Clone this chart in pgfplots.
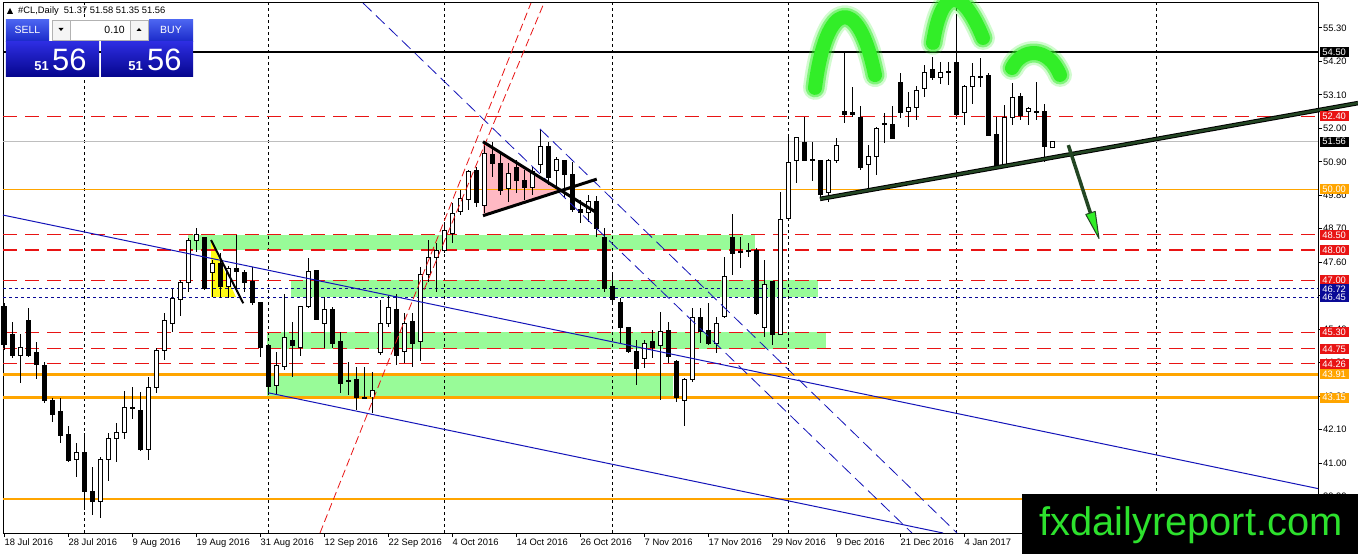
\documentclass[border=0pt]{standalone}
\usepackage{pgfplots}
\pgfplotsset{compat=1.18}
\usepackage{pgfplotstable}
\usetikzlibrary{backgrounds}
\usepackage{fontspec}
\setmainfont{Liberation Sans}

\definecolor{mtred}{RGB}{232,20,20}
\definecolor{mtorange}{RGB}{255,165,0}
\definecolor{mtnavy}{RGB}{10,10,150}
\definecolor{mtblue}{RGB}{20,20,185}
\definecolor{zone}{RGB}{152,251,152}
\definecolor{pinktri}{RGB}{255,185,195}
\definecolor{yeltri}{RGB}{255,250,20}
\definecolor{hsgreen}{RGB}{50,238,40}
\definecolor{trendgreen}{RGB}{35,70,35}
\definecolor{bidgray}{RGB}{190,190,190}
\definecolor{wmgreen}{RGB}{45,225,45}
\definecolor{btntop}{RGB}{75,100,240}
\definecolor{btnbot}{RGB}{25,40,200}
\definecolor{bigtop}{RGB}{45,45,225}
\definecolor{bigbot}{RGB}{5,5,140}

\newcommand{\lblfont}{\fontsize{9.4}{10}\selectfont}

% #CL daily bars, bar 0 = 18 Jul 2016, 8 bars between date labels
\pgfplotstableread{
i O H L C
0 46.13 46.26 44.71 44.88
1 45.24 45.64 44.45 44.55
2 44.55 45.24 43.63 44.81
3 45.67 46.10 44.48 44.52
4 44.62 44.98 43.76 44.25
5 44.22 44.32 42.97 43.07
6 43.07 43.14 42.35 42.61
7 42.68 43.14 41.66 41.92
8 41.95 42.22 41.05 41.07
9 41.13 41.66 40.54 41.36
10 41.36 41.99 39.46 40.05
11 40.05 40.87 39.29 39.75
12 39.72 41.20 39.19 41.13
13 41.13 41.99 40.41 41.79
14 41.79 42.32 41.03 41.99
15 41.99 43.37 41.79 42.84
16 42.84 43.50 42.45 42.78
17 42.71 43.33 41.39 41.46
18 41.46 43.83 41.10 43.47
19 43.47 44.78 43.30 44.71
20 44.71 45.93 44.39 45.70
21 45.60 46.72 45.31 46.42
22 46.36 47.02 45.83 46.92
23 46.92 48.40 46.62 48.33
24 48.30 48.73 47.94 48.50
25 48.40 48.42 46.69 46.75
26 47.25 47.67 46.46 47.57
27 47.57 47.90 46.42 46.79
28 46.79 47.48 46.42 47.38
29 47.38 48.50 46.62 47.28
30 47.25 47.34 46.62 46.92
31 46.95 47.44 46.19 46.26
32 46.26 46.26 44.48 44.81
33 44.85 44.85 43.33 43.50
34 43.56 44.65 43.27 44.22
35 44.16 46.56 44.06 45.14
36 45.04 45.64 43.83 44.85
37 44.81 46.16 44.52 46.13
38 46.13 47.74 46.10 47.28
39 47.34 47.34 45.70 45.73
40 45.57 46.46 44.78 46.06
41 46.06 46.13 44.78 44.94
42 44.98 45.31 43.30 43.63
43 43.72 44.32 43.24 43.69
44 43.73 44.16 42.74 43.17
45 43.15 44.16 43.12 43.13
46 43.17 44.00 42.64 43.37
47 44.62 46.36 44.55 45.60
48 45.60 46.49 45.47 46.10
49 46.06 46.56 44.22 44.55
50 44.65 45.93 44.29 45.60
51 45.64 45.93 44.16 44.94
52 44.98 47.44 44.35 47.18
53 47.18 48.33 46.95 47.74
54 47.77 48.23 46.62 48.00
55 48.00 48.92 47.90 48.63
56 48.56 49.55 48.23 49.19
57 49.28 49.97 49.15 49.68
58 49.65 50.63 49.32 50.57
59 50.60 50.73 49.42 49.55
60 49.48 51.55 49.22 51.16
61 51.13 51.55 50.40 50.86
62 50.86 51.19 49.81 49.97
63 50.01 50.86 49.58 50.53
64 50.73 50.96 49.88 50.30
65 50.30 50.63 49.65 50.07
66 50.07 50.73 49.81 50.57
67 50.80 51.95 50.53 51.39
68 51.42 51.55 50.14 50.37
69 50.63 51.06 50.04 50.99
70 50.93 50.96 49.74 50.50
71 50.47 50.89 49.25 49.32
72 49.32 49.65 48.89 49.22
73 49.22 49.81 48.92 49.58
74 49.58 49.78 48.43 48.72
75 48.40 48.72 46.62 46.75
76 46.79 47.28 46.26 46.36
77 46.29 46.42 44.94 45.47
78 45.47 45.47 44.62 44.65
79 44.65 45.04 43.56 44.12
80 44.45 45.04 44.12 44.94
81 44.98 45.37 44.45 44.81
82 44.85 45.96 43.07 45.31
83 45.34 45.64 44.29 44.50
84 44.35 44.39 43.01 43.14
85 43.07 43.79 42.22 43.73
86 43.73 46.10 43.66 45.77
87 45.77 46.10 44.94 45.31
88 45.37 46.26 44.88 44.94
89 44.94 45.80 44.62 45.60
90 45.80 47.77 45.77 47.12
91 48.40 49.19 47.18 47.90
92 47.94 48.43 47.41 47.92
93 47.97 48.23 47.77 47.96
94 48.00 48.07 45.87 45.93
95 45.44 47.67 45.14 46.88
96 46.95 46.98 44.88 45.24
97 45.24 49.91 45.21 48.99
98 49.05 51.78 48.99 50.89
99 50.96 51.72 50.20 51.69
100 51.55 52.37 50.93 50.96
101 50.99 51.55 50.27 50.93
102 50.93 50.95 49.74 49.81
103 49.88 50.99 49.58 50.93
104 50.93 51.69 50.86 51.42
105 52.57 54.51 52.18 52.44
106 52.51 53.36 52.37 52.47
107 52.37 52.74 50.63 50.73
108 50.80 51.45 50.01 51.06
109 51.09 52.05 50.47 52.01
110 52.15 52.51 51.52 52.14
111 52.14 52.74 51.65 51.68
112 53.52 53.82 52.34 52.51
113 52.54 53.20 52.05 52.67
114 52.67 53.39 52.28 53.23
115 53.30 54.08 53.03 53.85
116 53.92 54.35 53.59 53.66
117 53.66 54.18 53.46 53.85
118 53.86 54.18 53.43 53.85
119 54.18 55.73 52.41 52.47
120 52.51 53.43 52.11 53.36
121 53.36 54.15 52.80 53.72
122 53.70 54.31 53.36 53.68
123 53.75 53.82 51.74 51.75
124 51.81 52.37 50.71 50.73
125 50.80 52.77 50.76 52.37
126 52.37 53.49 52.11 53.03
127 53.06 53.16 52.28 52.41
128 52.57 52.70 52.11 52.64
129 52.55 53.52 52.28 52.54
130 52.54 52.80 50.89 51.39
131 51.37 51.58 51.35 51.56
}\ohlc

% full width price level
\newcommand{\level}[2]{\draw[#1] (-0.125,#2) -- (164.25,#2);}
% soft green hand-drawn stroke
\newcommand{\chev}[1]{%
  \draw[hsgreen, opacity=0.22, line width=24bp, line cap=round, line join=round] #1;
  \draw[hsgreen, opacity=0.5, line width=19bp, line cap=round, line join=round] #1;
  \draw[hsgreen, line width=14bp, line cap=round, line join=round] #1;}
% coloured price tag on the right scale
\newcommand{\pbox}[3]{\node[anchor=west, fill=#2, text=white, font=\lblfont,
  inner sep=0pt, minimum width=29bp, minimum height=10bp] at ([xshift=1.5bp]#1) {#3};}

\begin{document}
\begin{tikzpicture}[x=1bp, y=1bp]
\begin{axis}[
  scale only axis, width=1315bp, height=530bp,
  xmin=-0.125, xmax=164.25, ymin=38.70, ymax=56.12,
  clip=false,
  axis line style={line width=1bp},
  tick align=outside, major tick length=4bp,
  tick style={black, line width=1bp},
  xtick pos=left, ytick pos=right, yticklabel pos=right,
  xtick={0,8,...,120},
  xticklabels={18 Jul 2016, 28 Jul 2016, 9 Aug 2016, 19 Aug 2016, 31 Aug 2016,
    12 Sep 2016, 22 Sep 2016, 4 Oct 2016, 14 Oct 2016, 26 Oct 2016, 7 Nov 2016,
    17 Nov 2016, 29 Nov 2016, 9 Dec 2016, 21 Dec 2016, 4 Jan 2017},
  ytick={39.9,41,42.1,43.2,44.3,45.4,46.5,47.6,48.7,49.8,50.9,52,53.1,54.2,55.3},
  /pgf/number format/assume math mode=true,
  yticklabel style={font=\lblfont, anchor=west, inner sep=0pt, xshift=1bp,
    /pgf/number format/fixed, /pgf/number format/fixed zerofill,
    /pgf/number format/precision=2},
  xticklabel style={font=\lblfont, anchor=north west, inner sep=0pt, xshift=0.5bp, yshift=-1.5bp},
]
\coordinate (LL) at (rel axis cs:0,0);
% zones and patterns (background)
\fill[zone] (23,48.00) rectangle (93.9,48.50);
\fill[zone] (35.875,46.45) rectangle (101.75,47.00);
\fill[zone] (32.875,44.75) rectangle (102.75,45.30);
\fill[zone] (32.875,43.15) rectangle (83.6,43.91);
\fill[pinktri] (59.875,51.56) -- (59.875,49.13) -- (69.65,49.955) -- cycle;
\fill[yeltri] (25.875,48.31) -- (25.875,46.45) -- (29.0,46.45) -- cycle;

% grid
\foreach \g in {10,33,55,76,98,119,144}{
  \edef\tmp{\noexpand\draw[black, line width=1bp, dash pattern=on 3bp off 3bp] (\g,38.70) -- (\g,56.12);}\tmp}

% horizontal levels
\level{black, line width=2bp}{54.50}
\level{mtred, line width=1.1bp, dash pattern=on 14bp off 8bp}{52.40}
\level{bidgray, line width=1bp}{51.56}
\level{mtorange, line width=1bp}{50.00}
\level{mtred, line width=1.1bp, dash pattern=on 14bp off 8bp}{48.50}
\level{mtred, line width=1.1bp, dash pattern=on 14bp off 8bp}{48.00}
\level{mtred, line width=1.1bp, dash pattern=on 14bp off 8bp}{47.00}
\level{mtnavy, line width=1bp, dash pattern=on 3bp off 3bp}{46.72}
\level{mtnavy, line width=1bp, dash pattern=on 3bp off 3bp}{46.45}
\level{mtred, line width=1.1bp, dash pattern=on 14bp off 8bp}{45.30}
\level{mtred, line width=1.1bp, dash pattern=on 14bp off 8bp}{44.75}
\level{mtred, line width=1.1bp, dash pattern=on 14bp off 8bp}{44.26}
\level{mtorange, line width=2.5bp}{43.91}
\level{mtorange, line width=2.5bp}{43.15}
\level{mtorange, line width=2.5bp}{39.81}

% candles: wicks, bodies, hollow bull bodies
\addplot[draw=none, mark=none, forget plot,
  error bars/.cd, y dir=both, y explicit, error mark=none,
  error bar style={draw=black, solid, line width=1bp}]
  table[x=i, y expr={(\thisrow{H}+\thisrow{L})/2},
        y error expr={(\thisrow{H}-\thisrow{L})/2}] {\ohlc};
\addplot[draw=none, mark=none, forget plot,
  error bars/.cd, y dir=both, y explicit, error mark=none,
  error bar style={draw=black, solid, line width=5bp}]
  table[x=i, y expr={(\thisrow{O}+\thisrow{C})/2},
        y error expr={abs(\thisrow{C}-\thisrow{O})/2+0.0164}] {\ohlc};
\addplot[draw=none, mark=none, forget plot,
  error bars/.cd, y dir=both, y explicit, error mark=none,
  error bar style={draw=white, solid, line width=3bp}]
  table[x=i, y expr={\thisrow{C}-\thisrow{O}>0.04 ? (\thisrow{O}+\thisrow{C})/2 : nan},
        y error expr={(\thisrow{C}-\thisrow{O})/2-0.0164}] {\ohlc};

% trend lines
\draw[mtblue, line width=1bp] (-0.125,49.15) -- (164.25,40.16);
\draw[mtblue, line width=1bp] (33,43.31) -- (117.375,38.70);
\draw[mtblue, line width=0.8bp, dash pattern=on 12bp off 6bp] (44.875,56.12) -- (113.5,38.70);
\draw[mtblue, line width=0.8bp, dash pattern=on 12bp off 6bp] (67,51.98) -- (119.125,38.70);
\draw[mtred, line width=0.8bp, dash pattern=on 8bp off 4bp] (39.5,38.70) -- (65.875,56.12);
\draw[mtred, line width=0.8bp, dash pattern=on 8bp off 4bp] (52.5,46.69) -- (67.5,56.12);
\draw[black, line width=3bp] (59.875,51.56) -- (73.875,49.26);
\draw[black, line width=3bp] (59.875,49.13) -- (74.09,50.33);
\draw[black, line width=2bp] (25.875,48.33) -- (29.91,46.25);
\draw[black, line width=4.5bp] (102,49.68) -- (169.25,52.83);
\draw[trendgreen, line width=2.5bp] (102,49.68) -- (169.25,52.83);
\draw[trendgreen, line width=3.5bp] (133.04,51.45) -- (135.8,49.22);
\draw[fill=hsgreen, draw=trendgreen, line width=1bp, line join=round]
  (135.225,49.17) -- (136.4,49.27) -- (136.875,48.38) -- cycle;

% head and shoulders marks
\chev{(101.375,53.33) .. controls (102.75,56.22) and (106.75,56.48) .. (108.875,53.75)}
\chev{(116.125,54.81) .. controls (117.25,56.68) and (119.75,56.65) .. (122.375,54.97)}
\chev{(126,53.985) .. controls (127.25,54.643) and (130.5,54.71) .. (132,53.755)}

% anchors for the price tags
\coordinate (q1) at (164.25,54.50);
\coordinate (q2) at (164.25,52.40);
\coordinate (q3) at (164.25,51.56);
\coordinate (q4) at (164.25,50.00);
\coordinate (q5) at (164.25,48.50);
\coordinate (q6) at (164.25,48.00);
\coordinate (q7) at (164.25,47.00);
\coordinate (q8) at (164.25,46.72);
\coordinate (q9) at (164.25,46.45);
\coordinate (q10) at (164.25,45.30);
\coordinate (q11) at (164.25,44.75);
\coordinate (q12) at (164.25,44.26);
\coordinate (q13) at (164.25,43.91);
\coordinate (q14) at (164.25,43.15);
\coordinate (q15) at (164.25,39.81);
\end{axis}

% page = 1358 x 554 with the plot box at (3,21)
\pgfresetboundingbox
\coordinate (O) at ([xshift=-3bp, yshift=-21bp]LL);
\path[use as bounding box] (O) rectangle ([xshift=1358bp, yshift=554bp]O);
\begin{scope}[on background layer]
\fill[white] (O) rectangle ([xshift=1358bp, yshift=554bp]O);
\end{scope}

\pbox{q1}{black}{54.50}
\pbox{q2}{mtred}{52.40}
\pbox{q3}{black}{51.56}
\pbox{q4}{mtorange}{50.00}
\pbox{q5}{mtred}{48.50}
\pbox{q6}{mtred}{48.00}
\pbox{q7}{mtred}{47.00}
\pbox{q8}{mtnavy}{46.72}
\pbox{q9}{mtnavy}{46.45}
\pbox{q10}{mtred}{45.30}
\pbox{q11}{mtred}{44.75}
\pbox{q12}{mtred}{44.26}
\pbox{q13}{mtorange}{43.91}
\pbox{q14}{mtorange}{43.15}
\pbox{q15}{mtorange}{39.81}

\begin{scope}[shift={(O)}]
% watermark
\fill[black] (1022,0) rectangle (1358,60);
\node[anchor=base west, inner sep=0pt, text=wmgreen, font=\fontsize{40}{40}\selectfont] at (1039,19) {fxdailyreport.com};

% one click trading panel
\fill[black] (7,540) -- (13,540) -- (10,546) -- cycle;
\node[anchor=west, inner sep=0pt, font=\lblfont] at (18,543) {\#CL,Daily\hspace{5bp}51.37 51.58 51.35 51.56};
\shade[top color=btntop, bottom color=btnbot] (6,534) rectangle (49,512);
\shade[top color=btntop, bottom color=btnbot] (149,534) rectangle (193,512);
\draw[gray!60, fill=gray!8] (52,534) rectangle (70,514);
\draw[gray!60, fill=white] (70,534) rectangle (130,514);
\draw[gray!60, fill=gray!8] (130,534) rectangle (148,514);
\fill[black] (58.5,526) -- (63.5,526) -- (61,523) -- cycle;
\fill[black] (136.5,523) -- (141.5,523) -- (139,526) -- cycle;
\node[anchor=east, inner sep=0pt, font=\fontsize{10.5}{11}\selectfont] at (125,524) {0.10};
\node[text=white, inner sep=0pt, font=\fontsize{10.5}{11}\selectfont] at (27.5,524) {SELL};
\node[text=white, inner sep=0pt, font=\fontsize{10.5}{11}\selectfont] at (171,524) {BUY};
\draw[white!70!blue, line width=0.6bp] (10,512.5) -- (45,512.5);
\draw[white!70!blue, line width=0.6bp] (153,512.5) -- (189,512.5);
\shade[top color=bigtop, bottom color=bigbot] (6,512) rectangle (99,477);
\shade[top color=bigtop, bottom color=bigbot] (101,512) rectangle (193,477);
\node[anchor=base east, inner sep=0pt, text=white, font=\fontsize{13}{13}\selectfont\bfseries] at (49,484) {51};
\node[anchor=base west, inner sep=0pt, text=white, font=\fontsize{31}{31}\selectfont] at (52,484) {56};
\node[anchor=base east, inner sep=0pt, text=white, font=\fontsize{13}{13}\selectfont\bfseries] at (143,484) {51};
\node[anchor=base west, inner sep=0pt, text=white, font=\fontsize{31}{31}\selectfont] at (147,484) {56};
\end{scope}
\end{tikzpicture}
\end{document}
